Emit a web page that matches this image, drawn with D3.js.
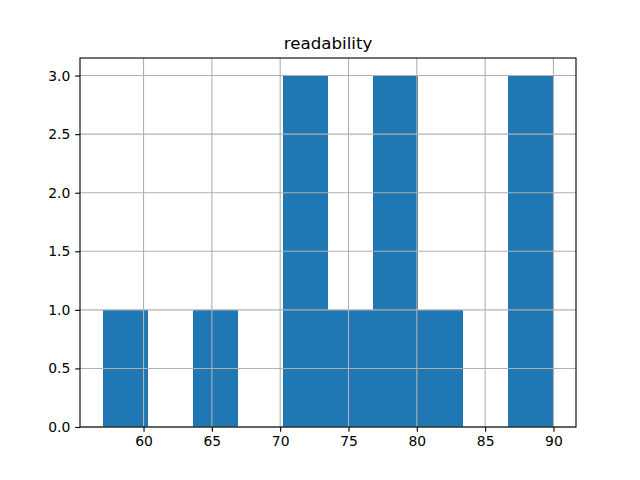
<!DOCTYPE html>
<html><head><meta charset="utf-8">
<script src="https://cdn.jsdelivr.net/npm/d3@7"></script>
<style>body{margin:0;background:#fff}svg{display:block;font-family:"DejaVu Sans",sans-serif}</style>
</head><body>
<script>
const title = "readability";
const binEdges = [57, 60.3, 63.6, 66.9, 70.2, 73.5, 76.8, 80.1, 83.4, 86.7, 90];
const counts = [1, 0, 1, 0, 3, 1, 3, 1, 0, 3];
const xTicks = [60, 65, 70, 75, 80, 85, 90];
const yTicks = [0, 0.5, 1.0, 1.5, 2.0, 2.5, 3.0];

const W = 640, H = 480;
const L = 80, R = 576, T = 58, B = 427;
const svg = d3.select("body").append("svg").attr("width", W).attr("height", H);

const xmin = binEdges[0], xmax = binEdges[binEdges.length - 1];
const xpad = (xmax - xmin) * 0.05;
const ymax = d3.max(counts) * 1.05;
const x = d3.scaleLinear().domain([xmin - xpad, xmax + xpad]).range([L, R]);
const y = d3.scaleLinear().domain([0, ymax]).range([B, T]);

const bins = counts.map((c, i) => ({x0: binEdges[i], x1: binEdges[i + 1], c}));
svg.append("g").attr("shape-rendering", "crispEdges").selectAll("rect").data(bins).join("rect")
  .attr("x", d => x(d.x0)).attr("width", d => x(d.x1) - x(d.x0))
  .attr("y", d => y(d.c)).attr("height", d => y(0) - y(d.c))
  .attr("fill", "#1f77b4");

// grid on top
const grid = svg.append("g").attr("stroke", "#b0b0b0").attr("stroke-width", 1.1);
grid.selectAll(".vx").data(xTicks).join("line")
  .attr("x1", d => x(d)).attr("x2", d => x(d)).attr("y1", T).attr("y2", B);
grid.selectAll(".hy").data(yTicks).join("line")
  .attr("x1", L).attr("x2", R).attr("y1", d => y(d)).attr("y2", d => y(d));

// axes
const xAxis = d3.axisBottom(x).tickValues(xTicks).tickSize(4.86).tickPadding(4.2).tickFormat(d3.format("d"));
const yAxis = d3.axisLeft(y).tickValues(yTicks).tickSize(4.86).tickPadding(4.86).tickFormat(d3.format(".1f"));
const gx = svg.append("g").attr("transform", `translate(0,${B})`).call(xAxis);
const gy = svg.append("g").attr("transform", `translate(${L},0)`).call(yAxis);
[gx, gy].forEach(g => {
  g.select(".domain").remove();
  g.selectAll("line").attr("stroke", "#000").attr("stroke-width", 1.1);
  g.selectAll("text").attr("font-size", "13.9px").attr("fill", "#000").attr("font-family", "DejaVu Sans");
});

// frame
svg.append("rect").attr("x", L).attr("y", T).attr("width", R - L).attr("height", B - T)
  .attr("fill", "none").attr("stroke", "#000").attr("stroke-width", 1.1);

svg.append("text").attr("x", (L + R) / 2).attr("y", T - 9)
  .attr("text-anchor", "middle").attr("font-size", "16.67px").attr("fill", "#000").text(title);
</script>
</body></html>
